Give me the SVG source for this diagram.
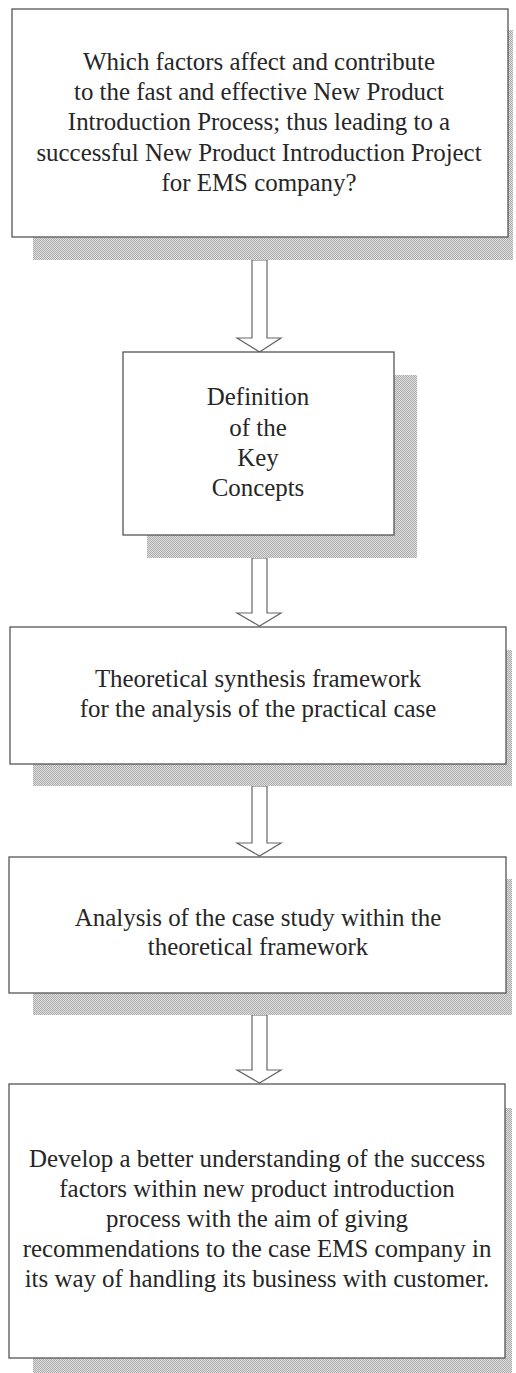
<svg xmlns="http://www.w3.org/2000/svg" width="516" height="1373" viewBox="0 0 516 1373">
<defs>
<pattern id="dots" width="2" height="2" patternUnits="userSpaceOnUse">
<rect width="2" height="2" fill="#e0e0e0"/>
<rect width="1" height="1" fill="#ababab"/>
<rect x="1" y="1" width="1" height="1" fill="#ababab"/>
</pattern>
</defs>
<style>
.shadow{fill:url(#dots);}
.box{fill:#ffffff;stroke:#555555;stroke-width:1.3;}
.arrow{fill:#ffffff;stroke:#666666;stroke-width:1.2;stroke-linejoin:miter;}
text{font-family:"Liberation Serif","Times New Roman",serif;font-size:24.9px;fill:#262626;text-anchor:middle;}
</style>
<rect width="516" height="1373" fill="#ffffff"/>
<g id="connectors">
<polygon class="arrow" points="252,260 267,260 267,338 281,338 259.5,352 237,338 252,338"/>
<polygon class="arrow" points="252,558 267,558 267,613 281,613 259.5,626 237,613 252,613"/>
<polygon class="arrow" points="252,786 267,786 267,843 281,843 259.5,856 237,843 252,843"/>
<polygon class="arrow" points="252,1015 267,1015 267,1070 281,1070 259.5,1083 237,1070 252,1070"/>
</g>
<g id="node1">
<rect class="shadow" x="33" y="30" width="480" height="230"/>
<rect class="box" x="12" y="9" width="496" height="228"/>
<text x="259" y="70">Which factors affect and contribute</text>
<text x="259" y="100">to the fast and effective New Product</text>
<text x="259" y="130">Introduction Process; thus leading to a</text>
<text x="259" y="161">successful New Product Introduction Project</text>
<text x="259" y="191">for EMS company?</text>
</g>
<g id="node2">
<rect class="shadow" x="147" y="375" width="270" height="183"/>
<rect class="box" x="123" y="352" width="271" height="183"/>
<text x="258" y="405">Definition</text>
<text x="258" y="436">of the</text>
<text x="258" y="466">Key</text>
<text x="258" y="496">Concepts</text>
</g>
<g id="node3">
<rect class="shadow" x="33" y="650" width="479" height="136"/>
<rect class="box" x="10" y="627" width="496" height="137"/>
<text x="258" y="687">Theoretical synthesis framework</text>
<text x="258" y="717">for the analysis of the practical case</text>
</g>
<g id="node4">
<rect class="shadow" x="33" y="879" width="479" height="136"/>
<rect class="box" x="9" y="857" width="497" height="136"/>
<text x="258" y="926">Analysis of the case study within the</text>
<text x="258" y="955">theoretical framework</text>
</g>
<g id="node5">
<rect class="shadow" x="33" y="1108" width="479" height="265"/>
<rect class="box" x="9" y="1084" width="496" height="274"/>
<text x="257" y="1167">Develop a better understanding of the success</text>
<text x="257" y="1197">factors within new product introduction</text>
<text x="257" y="1227">process with the aim of giving</text>
<text x="257" y="1257">recommendations to the case EMS company in</text>
<text x="257" y="1287">its way of handling its business with customer.</text>
</g>
</svg>
